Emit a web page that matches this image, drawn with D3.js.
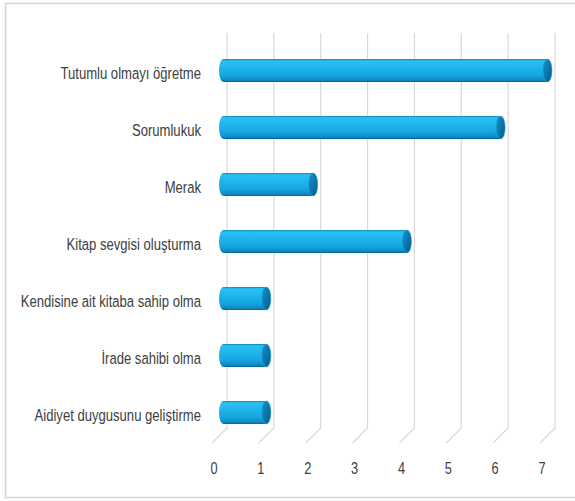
<!DOCTYPE html>
<html>
<head>
<meta charset="utf-8">
<script src="https://cdn.jsdelivr.net/npm/d3@7"></script>
<style>
  html, body { margin: 0; padding: 0; background: #ffffff; }
  svg { display: block; }
  .lbl { font-family: "Liberation Sans", Arial, sans-serif; fill: #404040; }
</style>
</head>
<body>
<svg id="chart" width="575" height="501"></svg>
<script>
const categories = [
  "Tutumlu olmayı öğretme",
  "Sorumlukuk",
  "Merak",
  "Kitap sevgisi oluşturma",
  "Kendisine ait kitaba sahip olma",
  "İrade sahibi olma",
  "Aidiyet duygusunu geliştirme"
];
const values = [7, 6, 2, 4, 1, 1, 1];
const tickValues = [0, 1, 2, 3, 4, 5, 6, 7];

const svg = d3.select("#chart");
const W = 575, H = 501;

// frame
svg.append("rect").attr("x", 5.5).attr("y", 3.5).attr("width", W + 10).attr("height", 494)
  .attr("fill", "#fff").attr("stroke", "#d4d4d4").attr("stroke-width", 1.5);

// 3D depth offsets
const dx = 15, dy = -15;
const floorY = 443, topBack = 33;
const narrow = 0.77;

const x = d3.scaleLinear().domain([0, 7]).range([212, 540]);
const y = d3.scaleBand().domain(categories).range([42, 441]);

// gradients
const defs = svg.append("defs");
const g1 = defs.append("linearGradient").attr("id", "barGrad").attr("x1", 0).attr("y1", 0).attr("x2", 0).attr("y2", 1);
[[0, "#0d86bd"], [0.08, "#2cc0f2"], [0.3, "#22b8ef"], [0.7, "#15a6e0"], [0.9, "#0f8dc6"], [1, "#0a6695"]]
  .forEach(([o, c]) => g1.append("stop").attr("offset", o).attr("stop-color", c));
const g2 = defs.append("linearGradient").attr("id", "capGrad").attr("x1", 0).attr("y1", 0).attr("x2", 1).attr("y2", 1);
[[0, "#1590c8"], [0.5, "#0c77ab"], [1, "#085a86"]]
  .forEach(([o, c]) => g2.append("stop").attr("offset", o).attr("stop-color", c));

// gridlines (back wall + floor diagonal)
const grid = svg.append("g");
tickValues.forEach(t => {
  const xb = x(t) + dx;
  grid.append("path")
    .attr("d", `M${xb},${topBack} L${xb},${floorY + dy} L${x(t)},${floorY}`)
    .attr("fill", "none").attr("stroke", "#d9d9d9").attr("stroke-width", 1.2);
});

// bars (cylinders at mid depth)
const mx = dx / 2;
const bh = 23;
const bars = svg.append("g");
categories.forEach((c, i) => {
  const cy = y(c) + y.bandwidth() / 2;
  const x0 = x(0) + mx + 4;
  const x1 = x(values[i]) + mx;
  const ry = bh / 2, rx = 4.5;
  const g = bars.append("g");
  g.append("ellipse").attr("cx", x0).attr("cy", cy).attr("rx", rx).attr("ry", ry).attr("fill", "url(#barGrad)");
  g.append("rect").attr("x", x0).attr("y", cy - ry).attr("width", x1 - x0).attr("height", bh).attr("fill", "url(#barGrad)");
  g.append("ellipse").attr("cx", x1).attr("cy", cy).attr("rx", rx).attr("ry", ry)
    .attr("fill", "url(#capGrad)").attr("stroke", "#1aa5dc").attr("stroke-width", 0.6);
});

// category labels (condensed)
svg.append("g").selectAll("text").data(categories).join("text")
  .attr("class", "lbl")
  .attr("transform", d => `translate(201,${y(d) + y.bandwidth() / 2 + 2}) scale(${narrow},1)`)
  .attr("text-anchor", "end")
  .attr("dominant-baseline", "central")
  .attr("font-size", 17)
  .text(d => d);

// value axis labels
svg.append("g").selectAll("text").data(tickValues).join("text")
  .attr("class", "lbl")
  .attr("transform", d => `translate(${x(d) + 2},468) scale(0.75,1)`)
  .attr("text-anchor", "middle")
  .attr("dominant-baseline", "central")
  .attr("font-size", 17)
  .text(d => d);
</script>
</body>
</html>
